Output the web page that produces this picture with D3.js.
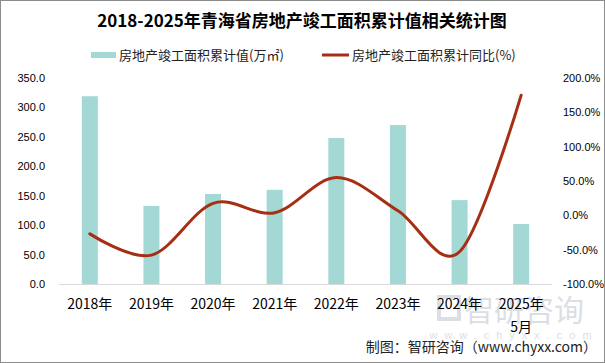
<!DOCTYPE html>
<html>
<head>
<meta charset="utf-8" />
<style>
body {
	margin: 0;
	font-family: "Liberation Sans", Arial, "Noto Sans CJK SC", sans-serif;
}
svg {
	display: block;
}
.tick-label {
	font-size: 11px;
	fill: #000;
}
.cat-label {
	font-family: "Noto Sans CJK SC", sans-serif;
	font-size: 14px;
	text-anchor: middle;
}
.legend-label {
	font-family: "Noto Sans CJK SC", sans-serif;
	font-size: 13px;
	fill: #222;
}
</style>
</head>
<body>
<script src="https://cdnjs.cloudflare.com/ajax/libs/d3/7.8.5/d3.min.js"></script>
<script>
var years = ["2018年", "2019年", "2020年", "2021年", "2022年", "2023年", "2024年", "2025年"];
var areaValues = [319, 132.5, 153, 160, 248, 270, 142.5, 102];
var yoyValues = [-27, -58, 17.5, 3.8, 55, 6.7, -53, 175];
var leftTicks = [0, 50, 100, 150, 200, 250, 300, 350];
var rightTicks = [-100, -50, 0, 50, 100, 150, 200];

var width = 605,
    height = 363;

var svg = d3.select("body").append("svg")
	.attr("width", width)
	.attr("height", height);

// frame
svg.append("rect")
	.attr("x", 0.5).attr("y", 0.5)
	.attr("width", width - 1).attr("height", height - 1)
	.attr("fill", "#fff")
	.attr("stroke", "#8c8c8c");

var x = d3.scaleBand()
	.domain(years)
	.range([59, 552]);

var yLeft = d3.scaleLinear()
	.domain([0, 350])
	.range([284, 78]);

var yRight = d3.scaleLinear()
	.domain([-100, 200])
	.range([284, 78]);

// watermark (logo + name)
var mark = svg.append("g").attr("opacity", 0.3);
mark.append("rect")
	.attr("x", 439).attr("y", 297)
	.attr("width", 20).attr("height", 22)
	.attr("fill", "none")
	.attr("stroke", "#8a93a8")
	.attr("stroke-width", 4);
mark.append("text")
	.attr("x", 524).attr("y", 321)
	.attr("text-anchor", "middle")
	.attr("font-family", "Noto Sans CJK SC")
	.attr("font-size", 30)
	.attr("fill", "#8a93a8")
	.text("智研咨询");
mark.append("text")
	.attr("x", 514).attr("y", 339)
	.attr("text-anchor", "middle")
	.attr("font-size", 11)
	.attr("letter-spacing", "7px")
	.attr("fill", "#8a93a8")
	.text("www.chyxx.com");

// title
svg.append("text")
	.attr("x", 302).attr("y", 27)
	.attr("text-anchor", "middle")
	.attr("font-family", "Noto Sans CJK SC")
	.attr("font-weight", "bold")
	.attr("font-size", 17)
	.text("2018-2025年青海省房地产竣工面积累计值相关统计图");

// legend
svg.append("rect")
	.attr("x", 91).attr("y", 52)
	.attr("width", 25).attr("height", 6)
	.attr("fill", "#a3d8d4");
svg.append("text")
	.attr("class", "legend-label")
	.attr("x", 119).attr("y", 60)
	.text("房地产竣工面积累计值(万㎡)");
svg.append("line")
	.attr("x1", 322).attr("x2", 349)
	.attr("y1", 55).attr("y2", 55)
	.attr("stroke", "#a52f12")
	.attr("stroke-width", 3);
svg.append("text")
	.attr("class", "legend-label")
	.attr("x", 352).attr("y", 60)
	.text("房地产竣工面积累计同比(%)");

// bars
var barWidth = 16;
svg.append("g")
	.selectAll("rect")
	.data(areaValues)
	.enter().append("rect")
	.attr("x", function(d, i) { return x(years[i]) + x.bandwidth() / 2 - barWidth / 2; })
	.attr("y", function(d) { return yLeft(d); })
	.attr("width", barWidth)
	.attr("height", function(d) { return yLeft(0) - yLeft(d); })
	.attr("fill", "#a3d8d4");

// base axis line
svg.append("line")
	.attr("x1", 59).attr("x2", 552)
	.attr("y1", 284.5).attr("y2", 284.5)
	.attr("stroke", "#d9d9d9");

// line
var line = d3.line()
	.x(function(d, i) { return x(years[i]) + x.bandwidth() / 2; })
	.y(function(d) { return yRight(d); })
	.curve(d3.curveCardinal.tension(0));

svg.append("path")
	.datum(yoyValues)
	.attr("d", line)
	.attr("fill", "none")
	.attr("stroke", "#a52f12")
	.attr("stroke-width", 3)
	.attr("stroke-linecap", "round");

// left tick labels
svg.append("g")
	.selectAll("text")
	.data(leftTicks)
	.enter().append("text")
	.attr("class", "tick-label")
	.attr("x", 45)
	.attr("y", function(d) { return yLeft(d) + 4; })
	.attr("text-anchor", "end")
	.text(function(d) { return d.toFixed(1); });

// right tick labels
svg.append("g")
	.selectAll("text")
	.data(rightTicks)
	.enter().append("text")
	.attr("class", "tick-label")
	.attr("x", 563)
	.attr("y", function(d) { return yRight(d) + 4; })
	.text(function(d) { return d.toFixed(1) + "%"; });

// category labels
svg.append("g")
	.selectAll("text")
	.data(years)
	.enter().append("text")
	.attr("class", "cat-label")
	.attr("x", function(d) { return x(d) + x.bandwidth() / 2; })
	.attr("y", 309)
	.text(function(d) { return d; });

svg.append("text")
	.attr("class", "cat-label")
	.attr("x", x("2025年") + x.bandwidth() / 2)
	.attr("y", 332)
	.text("5月");

// source
svg.append("text")
	.attr("x", 597).attr("y", 352)
	.attr("text-anchor", "end")
	.attr("font-family", "Noto Sans CJK SC")
	.attr("font-size", 14)
	.attr("fill", "#222")
	.text("制图：智研咨询（www.chyxx.com）");
</script>
</body>
</html>
